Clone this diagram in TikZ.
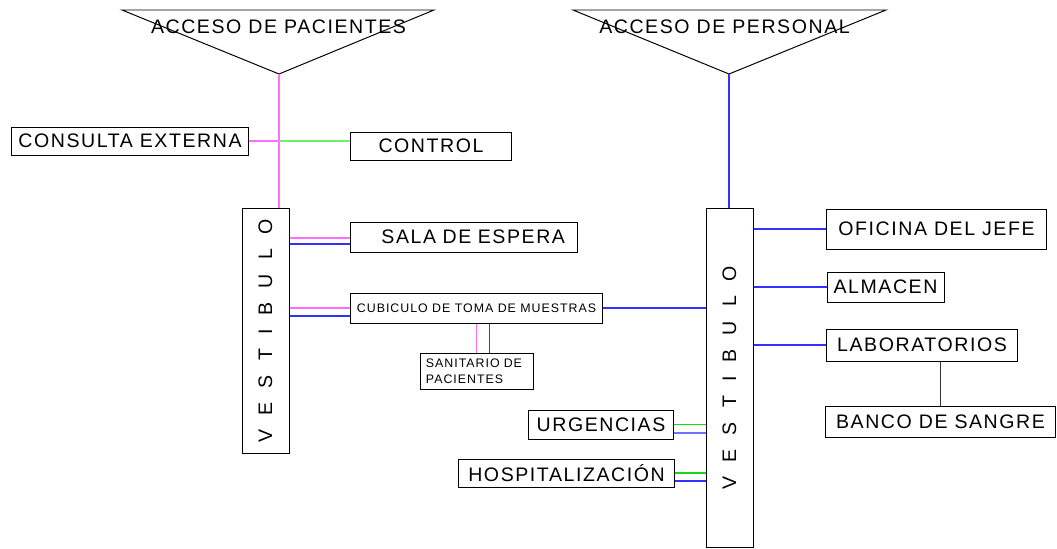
\documentclass[tikz,border=0pt]{standalone}
\usepackage{fontspec}
\setmainfont{Liberation Sans}[LetterSpace=8]
\newfontfamily\vertfont{Liberation Sans}[WordSpace=2.6]
\usepackage{tikz}
\usetikzlibrary{calc}

\definecolor{rosa}{RGB}{255,110,255}
\definecolor{azul}{RGB}{50,50,255}
\definecolor{verde}{RGB}{20,220,20}
\definecolor{verdeclaro}{RGB}{110,240,110}

\begin{document}
\begin{tikzpicture}[x=0.025cm, y=-0.025cm,
	caja/.style={draw, line width=0.7pt, inner sep=0pt, align=center, font=\fontsize{13.9}{16}\selectfont},
	chica/.style={caja, font=\fontsize{8.8}{11.4}\selectfont},
	titulo/.style={inner sep=0pt, font=\fontsize{13.9}{16}\selectfont},
	conrosa/.style={draw=rosa, line width=1.4pt},
	conazul/.style={draw=azul, line width=1.4pt},
	converde/.style={draw=verde, line width=1.4pt},
	connegro/.style={draw=black!80, line width=0.7pt}]

	\useasboundingbox (0,0) rectangle (1057,548);

	% accesos
	\coordinate (vp) at (279,74);
	\coordinate (vs) at (729,74);
	\draw[line width=0.7pt] (122,10) -- (434,10) -- (vp) -- cycle;
	\draw[line width=0.7pt] (573,10) -- (886,10) -- (vs) -- cycle;
	\node[titulo] (ap) at (278.5,27) {ACCESO DE PACIENTES};
	\node[titulo] (as) at (724.5,27) {ACCESO DE PERSONAL};

	% lado de pacientes
	\node[caja, minimum width=5.9cm, minimum height=0.7cm] (ce) at (130,141) {CONSULTA EXTERNA};
	\node[caja, minimum width=4cm, minimum height=0.7cm] (ctrl) at (431,146) {CONTROL};
	\node[caja, minimum width=1.175cm, minimum height=6.1cm] (vl) at (265.5,331) {\rotatebox{90}{\vertfont V E S T I B U L O}};
	\node[caja, text width=5.05cm, inner xsep=0.3cm, align=right, minimum height=0.75cm] (sala) at (464,237) {SALA DE ESPERA};
	\node[chica, minimum width=6.275cm, minimum height=0.75cm] (cub) at (476.5,308) {CUBICULO DE TOMA DE MUESTRAS};
	\node[chica, text width=2.525cm, inner xsep=0.15cm, align=left, minimum height=0.9cm] (san) at (476.5,371) {SANITARIO DE\\PACIENTES};

	% lado de personal
	\node[caja, minimum width=1.175cm, minimum height=8.45cm] (vr) at (729.5,378) {\rotatebox{90}{\vertfont V E S T I B U L O}};
	\node[caja, minimum width=5.475cm, minimum height=1cm] (ofi) at (936.5,229) {OFICINA DEL JEFE};
	\node[caja, minimum width=2.925cm, minimum height=0.75cm] (alm) at (885.5,287) {ALMACEN};
	\node[caja, minimum width=4.75cm, minimum height=0.8cm] (lab) at (922,345) {LABORATORIOS};
	\node[caja, minimum width=5.725cm, minimum height=0.775cm] (ban) at (940.5,421.5) {BANCO DE SANGRE};
	\node[caja, minimum width=3.6cm, minimum height=0.725cm] (urg) at (601,424.5) {URGENCIAS};
	\node[caja, minimum width=5.375cm, minimum height=0.7cm] (hos) at (566.5,473) {HOSPITALIZACIÓN};

	% conexiones
	\draw[conrosa] (vp) -- (vp |- vl.north);
	\draw[conrosa] (ce.east) -- (vp |- ce.east);
	\draw[draw=verdeclaro, line width=1.4pt] (vp |- ce.east) -- (ctrl.west |- ce.east);

	\coordinate (sa1) at ([yshift=-0.025cm]sala.west);
	\coordinate (sa2) at ([yshift=-0.17cm]sala.west);
	\draw[conrosa, line width=1.6pt] (sa1) -- (vl.east |- sa1);
	\draw[conazul] (sa2) -- (vl.east |- sa2);

	\coordinate (cu2) at ([yshift=-0.19cm]cub.west);
	\draw[conrosa] (cub.west) -- (vl.east |- cub.west);
	\draw[conazul] (cu2) -- (vl.east |- cu2);
	\draw[conazul] (cub.east) -- (vr.west |- cub.east);

	\coordinate (sn2) at ([xshift=0.325cm]san.north);
	\draw[conrosa] (san.north) -- (san.north |- cub.south);
	\draw[conazul] (sn2) -- (sn2 |- cub.south);

	\draw[conazul] (vs) -- (vs |- vr.north);
	\foreach \n in {ofi,alm,lab}
		\draw[conazul] (vr.east |- \n.west) -- (\n.west);
	\draw[connegro] (ban.north) -- (ban.north |- lab.south);

	\coordinate (ur2) at ([yshift=-0.22cm]urg.east);
	\draw[converde] (urg.east) -- (vr.west |- urg.east);
	\draw[draw=azul!70, line width=1.4pt] (ur2) -- (vr.west |- ur2);

	\coordinate (ho2) at ([yshift=-0.19cm]hos.east);
	\draw[converde] (hos.east) -- (vr.west |- hos.east);
	\draw[conazul] (ho2) -- (vr.west |- ho2);

\end{tikzpicture}
\end{document}
